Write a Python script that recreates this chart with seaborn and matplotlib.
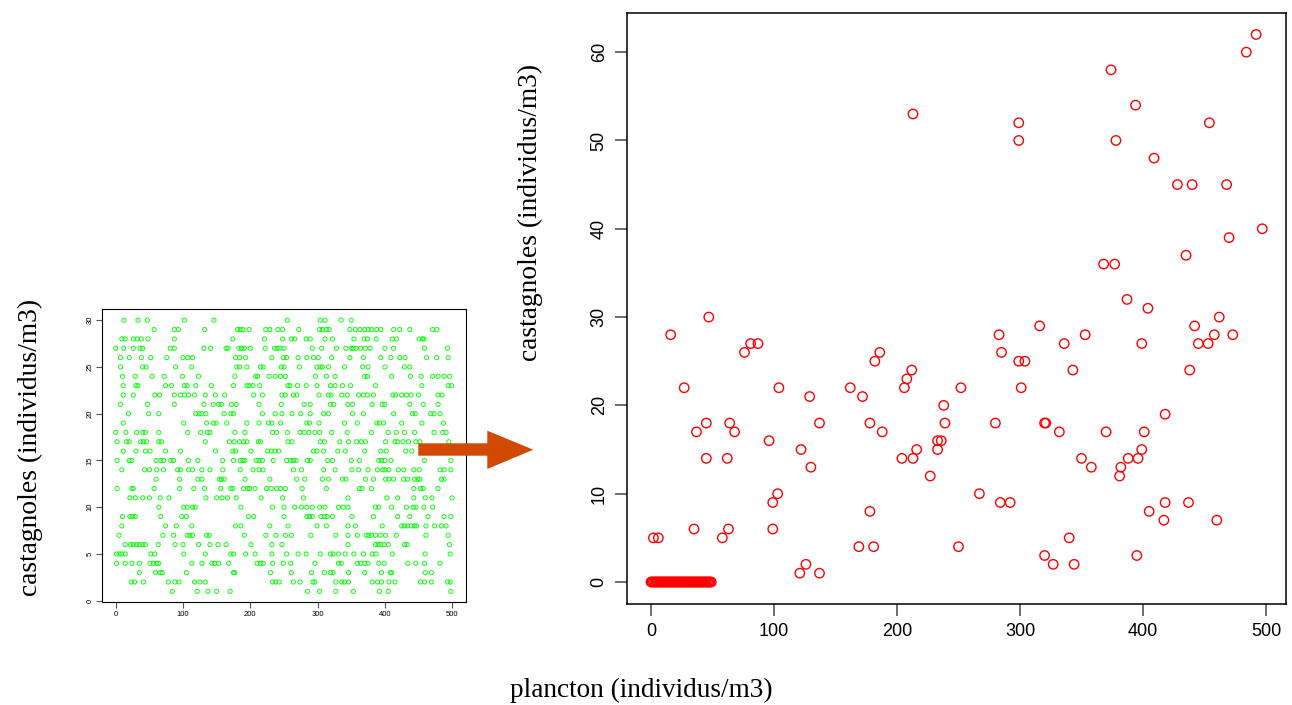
import numpy as np
import pandas as pd
import matplotlib
matplotlib.use("Agg")
import matplotlib.pyplot as plt
from matplotlib.patches import Polygon
import seaborn as sns

# ---------------- data: left panel (green), one list of x per y level ----------------
row_30 = [12, 33, 47, 102, 146, 255, 304, 311, 335, 350]
row_29 = [57, 87, 93, 132, 181, 185, 189, 198, 223, 229, 241, 248, 272, 303, 307, 313, 317, 348, 356,
          363, 370, 375, 380, 388, 394, 413, 422, 437, 471, 477]
row_28 = [9, 14, 26, 32, 38, 48, 87, 174, 221, 248, 261, 266, 283, 289, 311, 322, 354, 369, 374, 387,
          411, 417, 451, 456, 458]
row_27 = [0, 12, 26, 36, 40, 81, 87, 131, 141, 164, 167, 183, 187, 191, 200, 222, 236, 240, 244, 250,
          292, 306, 328, 342, 350, 353, 357, 364, 371, 378, 400, 413, 459, 493]
row_26 = [7, 20, 38, 52, 76, 100, 107, 114, 178, 184, 193, 232, 249, 254, 271, 284, 294, 301, 321, 348,
          368, 394, 409, 422, 430, 462, 477, 494]
row_25 = [7, 40, 45, 89, 113, 180, 184, 195, 215, 219, 246, 250, 273, 299, 304, 307, 316, 340, 367,
          375, 400, 429, 437]
row_24 = [10, 29, 54, 72, 99, 123, 177, 208, 211, 228, 237, 245, 252, 297, 313, 326, 370, 374, 410,
          438, 454, 471, 479, 488, 496]
row_23 = [11, 30, 33, 74, 83, 102, 106, 119, 142, 175, 195, 198, 204, 214, 256, 259, 270, 283, 299,
          319, 326, 337, 349, 386, 455, 494, 499]
row_22 = [11, 26, 58, 65, 87, 96, 102, 108, 117, 133, 148, 162, 205, 218, 247, 252, 264, 269, 302, 316,
          320, 336, 344, 361, 368, 374, 383, 412, 416, 425, 432, 439, 450, 479, 485]
row_21 = [7, 47, 87, 131, 145, 153, 157, 172, 179, 213, 246, 280, 289, 319, 324, 345, 352, 381, 396,
          400, 437, 457, 479]
row_20 = [19, 49, 64, 119, 124, 128, 134, 161, 171, 175, 218, 237, 247, 262, 275, 289, 309, 316, 352,
          368, 413, 441, 445, 468, 473, 482]
row_19 = [11, 101, 135, 145, 149, 165, 195, 213, 227, 232, 245, 284, 288, 302, 340, 359, 388, 392, 398,
          425, 455, 487]
row_18 = [0, 15, 31, 40, 44, 64, 107, 126, 136, 140, 177, 192, 233, 239, 255, 274, 280, 287, 296, 303,
          321, 344, 380, 405, 417, 429, 444, 473, 486, 491]
row_17 = [2, 16, 20, 37, 41, 46, 64, 68, 133, 169, 176, 184, 190, 195, 212, 215, 256, 262, 304, 310,
          333, 346, 358, 365, 371, 401, 415, 419, 427, 435, 446, 452, 495]
row_16 = [11, 30, 44, 51, 74, 96, 148, 174, 178, 201, 226, 231, 237, 242, 294, 299, 309, 330, 341, 370,
          394, 402, 431, 440]
row_15 = [2, 20, 24, 60, 67, 71, 82, 86, 108, 122, 159, 175, 185, 189, 192, 209, 213, 218, 234, 254,
          260, 264, 268, 285, 289, 315, 322, 350, 362, 391, 395, 400, 409, 459, 498]
row_14 = [9, 43, 50, 61, 71, 92, 96, 108, 114, 128, 140, 159, 185, 204, 213, 219, 264, 276, 309, 326,
          351, 361, 375, 389, 397, 400, 406, 420, 428, 443, 451, 482, 488, 498]
row_13 = [60, 95, 122, 128, 154, 157, 161, 192, 229, 269, 281, 307, 316, 337, 342, 371, 383, 401, 406,
          413, 428, 434, 444, 449, 452, 484, 488]
row_12 = [2, 24, 26, 57, 95, 116, 132, 156, 171, 174, 190, 196, 199, 207, 224, 231, 239, 245, 252, 277,
          313, 362, 366, 380, 443, 453, 457, 479]
row_11 = [21, 29, 40, 50, 66, 79, 134, 150, 158, 166, 179, 216, 248, 279, 345, 403, 419, 443, 460, 470, 500]
row_10 = [64, 101, 106, 114, 118, 186, 233, 250, 266, 276, 284, 292, 303, 311, 331, 338, 345, 386, 391,
          410, 432, 442, 446, 458, 471]
row_9 = [10, 21, 25, 29, 67, 98, 105, 197, 205, 250, 284, 288, 292, 305, 310, 314, 322, 351, 383, 419,
         437, 464, 488, 498]
row_8 = [9, 74, 90, 113, 178, 186, 229, 256, 299, 313, 345, 356, 396, 425, 429, 434, 439, 444, 447, 461,
         474, 484, 491]
row_7 = [5, 70, 86, 106, 110, 114, 135, 139, 191, 223, 238, 252, 261, 290, 327, 345, 359, 372, 376, 380,
         386, 393, 401, 417, 461, 494]
row_6 = [14, 22, 26, 31, 35, 40, 44, 63, 88, 100, 123, 140, 152, 164, 201, 232, 247, 345, 386, 390, 394,
         399, 405, 429, 433, 496]
row_5 = [1, 5, 9, 14, 52, 58, 101, 133, 171, 175, 193, 207, 232, 254, 271, 283, 304, 319, 323, 331, 341,
         354, 368, 381, 387, 411, 460, 497]
row_4 = [1, 14, 24, 35, 51, 56, 61, 64, 113, 128, 143, 147, 153, 168, 210, 215, 219, 233, 249, 260, 296,
         331, 335, 359, 364, 370, 375, 391, 399, 434, 446, 459, 482]
row_3 = [35, 59, 66, 69, 105, 175, 177, 230, 261, 291, 310, 319, 323, 346, 370, 395, 408, 410, 460, 469]
row_2 = [23, 28, 41, 78, 88, 94, 117, 125, 133, 233, 238, 243, 264, 274, 293, 296, 327, 336, 340, 346,
         381, 389, 395, 406, 415, 453, 459, 469, 493, 497]
row_1 = [84, 121, 137, 150, 170, 285, 303, 327, 353, 392, 405, 498]

green_rows = {30: row_30, 29: row_29, 28: row_28, 27: row_27, 26: row_26, 25: row_25, 24: row_24,
              23: row_23, 22: row_22, 21: row_21, 20: row_20, 19: row_19, 18: row_18, 17: row_17,
              16: row_16, 15: row_15, 14: row_14, 13: row_13, 12: row_12, 11: row_11, 10: row_10,
              9: row_9, 8: row_8, 7: row_7, 6: row_6, 5: row_5, 4: row_4, 3: row_3, 2: row_2, 1: row_1}

# ---------------- data: right panel (red) ----------------
red_x = [213, 299, 299, 374, 394, 454, 378, 409, 428, 440, 468, 492, 484, 497, 470, 435, 368, 377, 387,
         404, 462, 47, 316, 442, 16, 283, 353, 458, 473, 81, 87, 336, 399, 445, 453, 76, 186, 285, 182,
         299, 304, 212, 343, 438, 208, 27, 104, 162, 206, 252, 301, 129, 172, 238, 418, 45, 64, 137, 178,
         239, 280, 320, 321, 37, 68, 188, 332, 370, 401, 96, 233, 236, 122, 216, 233, 399, 45, 62, 204,
         213, 350, 388, 396, 130, 358, 382, 227, 381, 103, 267, 99, 284, 292, 418, 437, 178, 405, 417,
         460, 35, 63, 99, 2, 6, 58, 340, 169, 181, 250, 320, 395, 126, 327, 344, 121, 137]
red_y = [53, 52, 50, 58, 54, 52, 50, 48, 45, 45, 45, 62, 60, 40, 39, 37, 36, 36, 32,
         31, 30, 30, 29, 29, 28, 28, 28, 28, 28, 27, 27, 27, 27, 27, 27, 26, 26, 26, 25,
         25, 25, 24, 24, 24, 23, 22, 22, 22, 22, 22, 22, 21, 21, 20, 19, 18, 18, 18, 18,
         18, 18, 18, 18, 17, 17, 17, 17, 17, 17, 16, 16, 16, 15, 15, 15, 15, 14, 14, 14,
         14, 14, 14, 14, 13, 13, 13, 12, 12, 10, 10, 9, 9, 9, 9, 9, 8, 8, 7,
         7, 6, 6, 6, 5, 5, 5, 5, 4, 4, 4, 3, 3, 2, 2, 2, 1, 1]
red_zero_x = [0, 1, 2, 3, 4, 5, 6, 7, 8, 9, 10, 11, 12, 13, 14, 15, 16, 17, 18, 19, 20, 21, 22, 23, 24,
              25, 26, 27, 28, 29, 30, 31, 32, 33, 34, 35, 36, 37, 38, 39, 40, 41, 42, 43, 44, 45, 46,
              47, 48, 49]
red_zero_y = [0] * len(red_zero_x)

left_xticks = [0, 100, 200, 300, 400, 500]
left_yticks = [0, 5, 10, 15, 20, 25, 30]
right_xticks = [0, 100, 200, 300, 400, 500]
right_yticks = [0, 10, 20, 30, 40, 50, 60]

ylabel_text = "castagnoles (individus/m3)"
xlabel_text = "plancton (individus/m3)"

# ---------------- build frames ----------------
gx, gy = [], []
for yv, xs in green_rows.items():
    gx.extend(xs)
    gy.extend([yv] * len(xs))
green_df = pd.DataFrame({"x": gx, "y": gy})
red_df = pd.DataFrame({"x": red_x + red_zero_x, "y": red_y + red_zero_y})

sns.set_style("white")
plt.rcParams["font.family"] = ["Liberation Sans", "DejaVu Sans"]
plt.rcParams["text.color"] = "black"
plt.rcParams["xtick.labelcolor"] = "black"
plt.rcParams["ytick.labelcolor"] = "black"

W, H = 1292, 705
fig = plt.figure(figsize=(W / 100, H / 100), dpi=100)

def frac(l, t, r, b):
    return [l / W, (H - b) / H, (r - l) / W, (b - t) / H]

ax1 = fig.add_axes(frac(102.3, 309, 466.3, 602.2))
ax2 = fig.add_axes(frac(626.5, 12.6, 1286.4, 603.9))

sns.scatterplot(data=green_df, x="x", y="y", ax=ax1, marker="o", s=9,
                facecolors="none", edgecolor="#00FF00", linewidth=0.65)
sns.scatterplot(data=red_df, x="x", y="y", ax=ax2, marker="o", s=46,
                facecolors="none", edgecolor="#FF0000", linewidth=1.0)

ax1.set_xlim(-20, 521)
ax1.set_ylim(-0.16, 31.2)
ax2.set_xlim(-19.9, 516.6)
ax2.set_ylim(-2.48, 64.48)

for ax in (ax1, ax2):
    ax.set_xlabel("")
    ax.set_ylabel("")
    for sp in ax.spines.values():
        sp.set_visible(True)
        sp.set_color("black")

for sp in ax1.spines.values():
    sp.set_linewidth(0.8)
for sp in ax2.spines.values():
    sp.set_linewidth(1.1)

ax1.set_xticks(left_xticks)
ax1.set_yticks(left_yticks)
ax1.tick_params(axis="both", direction="out", length=4.5, width=0.8, color="#555555",
                labelsize=5.5, labelcolor="black", pad=2, bottom=True, left=True)
for lab in ax1.get_yticklabels():
    lab.set_rotation(90)
    lab.set_va("center")

ax2.set_xticks(right_xticks)
ax2.set_yticks(right_yticks)
ax2.tick_params(axis="both", direction="out", length=8.5, width=1.2, color="#555555",
                labelsize=13, labelcolor="black", pad=5, bottom=True, left=True)
for lab in ax2.get_yticklabels():
    lab.set_rotation(90)
    lab.set_va("center")

serif = ["Liberation Serif", "DejaVu Serif"]
fig.text(30 / W, (H - 447) / H, ylabel_text, rotation=90, ha="center", va="center",
         fontsize=19.8, family=serif, color="black")
fig.text(530 / W, (H - 212) / H, ylabel_text, rotation=90, ha="center", va="center",
         fontsize=19.8, family=serif, color="black")
fig.text(641 / W, (H - 690) / H, xlabel_text, ha="center", va="center",
         fontsize=19.6, family=serif, color="black")

# arrow between panels (pixel coordinates -> figure fraction)
pts = [(418.3, 443.3), (487.3, 443.3), (487.3, 430.7), (533.3, 449.7),
       (487.3, 469.0), (487.3, 455.7), (418.3, 455.7)]
poly = Polygon([(x / W, (H - y) / H) for x, y in pts], closed=True,
               transform=fig.transFigure, facecolor="#D24A02", edgecolor="none", zorder=10)
fig.patches.append(poly)

fig.savefig("out.png", dpi=100)
